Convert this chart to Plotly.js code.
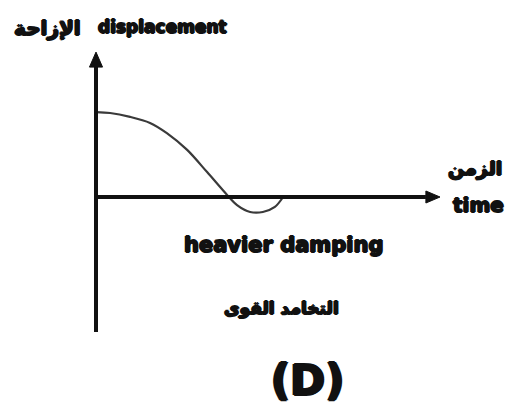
<!DOCTYPE html>
<html>
<head>
<meta charset="utf-8">
<script src="https://cdn.plot.ly/plotly-3.0.1.min.js"></script>
<style>html,body{margin:0;padding:0;background:#fff}</style>
</head>
<body>
<div id="chart" style="width:509px;height:412px"></div>
<script>
// Heavily damped motion: displacement falls, overshoots once, then settles
const time = [0, 0.41, 0.99, 1.57, 2.06, 2.65, 3.23, 3.81, 4.10, 4.48, 4.85, 5.20, 5.44];
const displacement = [2.83, 2.8, 2.67, 2.47, 2.13, 1.57, 0.83, 0.07, -0.27, -0.5, -0.5, -0.33, 0];

// Axis labels (Arabic / English) and captions
const yLabels = ['الإزاحة', 'displacement'];
const xLabels = ['الزمن', 'time'];
const captions = ['heavier damping', 'التخامد القوى', '(D)'];

// Extent of the hand-drawn axes in data units
const timeAxisEnd = 10;
const dispAxisTop = 4.83;
const dispAxisBottom = -4.5;

const W = 509, H = 412;
const px = x => x / W;
const py = y => 1 - y / H;

const fontFam = '"DejaVu Sans", "Liberation Sans", Arial, sans-serif';
// thicken the bold strokes with a tight outline shadow
const heavy = w => [`${w}px 0 0 #111`, `-${w}px 0 0 #111`, `0 ${w}px 0 #111`, `0 -${w}px 0 #111`].join(', ');
const txt = (text, x, y, size, w) => ({
  text, x: px(x), y: py(y), xref: 'paper', yref: 'paper',
  showarrow: false, xanchor: 'center', yanchor: 'middle',
  font: {family: fontFam, size, color: '#111', weight: 'bold', shadow: heavy(w)}
});

const headX = 0.41, headHalfY = 0.2;   // x-axis arrowhead
const headY = 0.5, headHalfX = 0.19;   // y-axis arrowhead

const shapes = [
  {type: 'line', xref: 'x', yref: 'y', x0: 0, y0: dispAxisBottom, x1: 0, y1: dispAxisTop - headY,
   line: {color: '#111', width: 4}},
  {type: 'path', xref: 'x', yref: 'y',
   path: `M ${-headHalfX},${dispAxisTop - headY} L 0,${dispAxisTop} L ${headHalfX},${dispAxisTop - headY} Z`,
   fillcolor: '#111', line: {color: '#111', width: 1}},
  {type: 'line', xref: 'x', yref: 'y', x0: 0, y0: 0, x1: timeAxisEnd - headX, y1: 0,
   line: {color: '#111', width: 4}},
  {type: 'path', xref: 'x', yref: 'y',
   path: `M ${timeAxisEnd - headX},${-headHalfY} L ${timeAxisEnd},0 L ${timeAxisEnd - headX},${headHalfY} Z`,
   fillcolor: '#111', line: {color: '#111', width: 1}}
];

const trace = {
  x: time, y: displacement, type: 'scatter', mode: 'lines',
  line: {color: '#3a3a3a', width: 2.2, shape: 'spline', smoothing: 0.9},
  hoverinfo: 'skip'
};

const layout = {
  width: W, height: H,
  margin: {l: 0, r: 0, t: 0, b: 0},
  paper_bgcolor: '#ffffff', plot_bgcolor: '#ffffff',
  showlegend: false,
  xaxis: {range: [-96 / 34.4, (W - 96) / 34.4], visible: false, fixedrange: true},
  yaxis: {range: [-(H - 197) / 30, 197 / 30], visible: false, fixedrange: true},
  shapes,
  annotations: [
    txt(yLabels[0], 47, 28, 20, 1),
    txt(yLabels[1], 162, 27, 17, 1),
    txt(xLabels[0], 475, 168, 19, 1),
    txt(xLabels[1], 478, 205, 20, 1),
    txt(captions[0], 283, 245, 21, 1),
    txt(captions[1], 281, 308, 17, 1),
    txt(captions[2], 307, 380, 42, 1.4)
  ]
};

Plotly.newPlot('chart', [trace], layout, {staticPlot: true, displayModeBar: false});
</script>
</body>
</html>
